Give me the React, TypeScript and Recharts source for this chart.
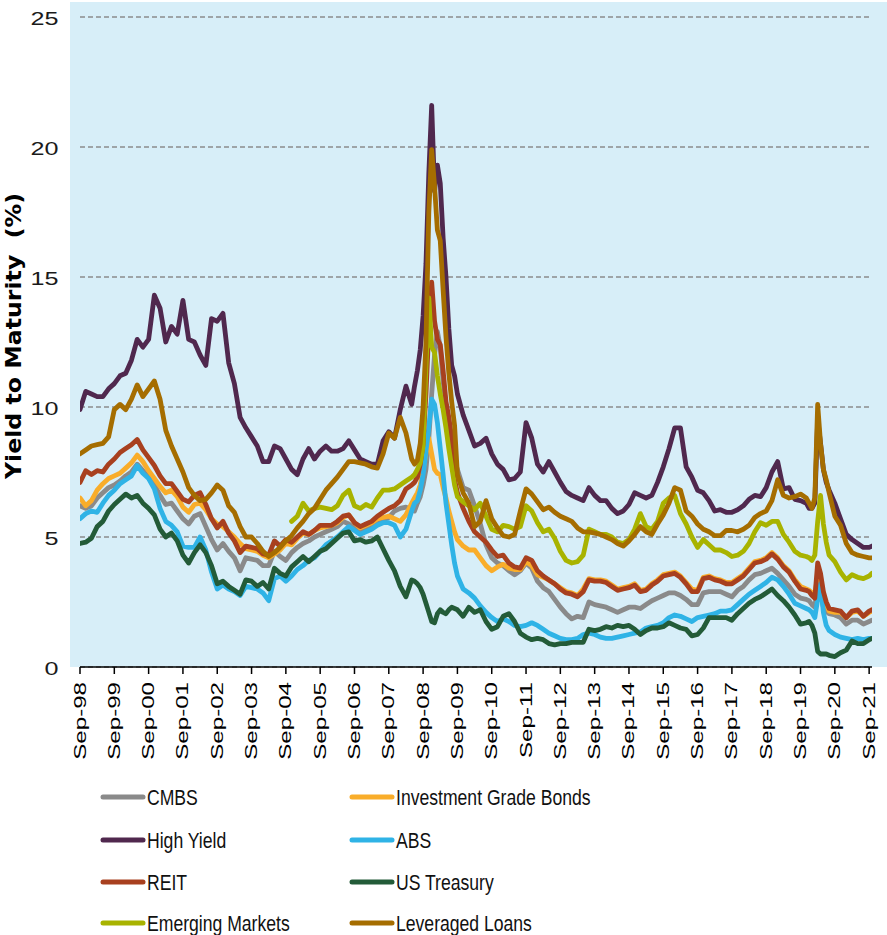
import { LineChart, Line, XAxis, YAxis, CartesianGrid } from 'recharts';

// month offsets from Sep-98 (every 2 months, monthly around the 2008 and 2020 spikes)
const MONTHS = [
  0, 2, 4, 6, 8, 10, 12, 14, 16, 18,
  20, 22, 24, 26, 28, 30, 32, 34, 36, 38,
  40, 42, 44, 46, 48, 50, 52, 54, 56, 58,
  60, 62, 64, 66, 68, 70, 72, 74, 76, 78,
  80, 82, 84, 86, 88, 90, 92, 94, 96, 98,
  100, 102, 104, 106, 108, 110, 112, 114, 116,
  117, 118, 119, 120, 121, 122, 123, 124, 125, 126, 127, 128, 129, 130, 131,
  132, 134, 136, 138, 140, 142, 144, 146, 148, 150,
  152, 154, 156, 158, 160, 162, 164, 166, 168, 170,
  172, 174, 176, 178, 180, 182, 184, 186, 188, 190,
  192, 194, 196, 198, 200, 202, 204, 206, 208, 210,
  212, 214, 216, 218, 220, 222, 224, 226, 228, 230,
  232, 234, 236, 238, 240, 242, 244, 246, 248, 250,
  252, 254,
  255, 256, 257, 258, 259, 260, 261, 262, 264, 266, 268, 270, 272, 274, 276, 277,
];

const YEAR_TICKS = [0, 12, 24, 36, 48, 60, 72, 84, 96, 108, 120, 132, 144, 156, 168, 180, 192, 204, 216, 228, 240, 252, 264, 276];
const YEAR_LABELS = [
  'Sep-98', 'Sep-99', 'Sep-00', 'Sep-01', 'Sep-02', 'Sep-03', 'Sep-04', 'Sep-05',
  'Sep-06', 'Sep-07', 'Sep-08', 'Sep-09', 'Sep-10', 'Sep-11', 'Sep-12', 'Sep-13',
  'Sep-14', 'Sep-15', 'Sep-16', 'Sep-17', 'Sep-18', 'Sep-19', 'Sep-20', 'Sep-21',
];
const Y_TICKS = [0, 5, 10, 15, 20, 25];

const CMBS = [
  6.2, 6.1, 6.2, 6.5, 6.7, 6.9, 7.0, 7.15, 7.35, 7.5,
  7.8, 7.55, 7.3, 7.0, 6.6, 6.25, 6.3, 6.0, 5.7, 5.5,
  5.8, 5.9, 5.4, 4.9, 4.5, 4.75, 4.45, 4.2, 3.7, 4.2,
  4.15, 4.1, 3.9, 3.9, 4.45, 4.25, 4.1, 4.4, 4.6, 4.75,
  4.85, 5.0, 5.1, 5.2, 5.3, 5.4, 5.6, 5.5, 5.35, 5.25,
  5.35, 5.45, 5.5, 5.65, 5.75, 6.0, 6.1, 6.15, 6.05,
  6.0, 6.3, 6.55, 7.0, 7.6, 8.8, 10.5, 12.0, 12.9, 12.3, 11.0, 10.0, 9.2, 8.4, 7.9,
  7.6, 6.9, 6.8, 6.2, 5.5, 4.7, 4.2, 4.0, 3.9, 3.7,
  3.55, 3.7, 4.0, 3.8, 3.3, 3.05, 2.9, 2.6, 2.3, 2.05,
  1.85, 1.95, 1.9, 2.5, 2.4, 2.35, 2.3, 2.2, 2.1, 2.2,
  2.3, 2.3, 2.25, 2.4, 2.55, 2.65, 2.75, 2.85, 2.85, 2.75,
  2.6, 2.4, 2.4, 2.85, 2.9, 2.9, 2.9, 2.8, 2.7, 2.95,
  3.1, 3.35, 3.55, 3.6, 3.7, 3.8, 3.6, 3.35, 3.1, 2.8,
  2.65, 2.6,
  2.55, 2.4, 2.3, 3.2, 2.8, 2.3, 2.15, 2.05, 2.0, 1.9, 1.65, 1.8, 1.8, 1.65, 1.75, 1.8,
];

const IG_BONDS = [
  6.5, 6.2, 6.4, 6.8, 7.05, 7.25, 7.35, 7.45, 7.65, 7.85,
  8.15, 7.9, 7.55, 7.25, 6.95, 6.7, 6.8, 6.55, 6.15, 5.95,
  6.25, 6.3, 6.05, 5.7, 5.5, 5.4, 5.2, 5.0, 4.75, 4.55,
  4.5, 4.45, 4.3, 4.2, 4.35, 4.5, 4.75, 4.7, 4.95, 5.15,
  5.1, 5.25, 5.35, 5.4, 5.45, 5.55, 5.75, 5.85, 5.55, 5.35,
  5.45, 5.55, 5.7, 5.75, 5.8, 5.7, 5.6, 5.85, 6.3,
  6.5, 6.7, 7.0, 7.6, 8.2, 8.8, 8.2, 7.6, 7.45, 7.4, 6.9, 6.5, 6.0, 5.6, 5.2,
  4.9, 4.65, 4.5, 4.5, 4.2, 3.9, 3.7, 3.85, 3.95, 3.8,
  3.75, 3.75, 4.05, 3.9, 3.55, 3.45, 3.35, 3.2, 3.05, 2.9,
  2.85, 2.75, 3.0, 3.4, 3.35, 3.35, 3.3, 3.15, 3.0, 3.05,
  3.1, 3.2, 2.95, 3.0, 3.2, 3.35, 3.55, 3.6, 3.65, 3.5,
  3.25, 3.0, 2.95, 3.45, 3.5, 3.4, 3.35, 3.25, 3.25, 3.4,
  3.55, 3.8, 4.05, 4.1, 4.2, 4.4, 4.2, 3.9, 3.7, 3.35,
  3.1, 3.0,
  2.95, 2.85, 2.8, 3.5, 3.3, 2.8, 2.4, 2.15, 2.1, 2.1, 1.9, 2.1, 2.15, 1.95, 2.1, 2.15,
];

const HIGH_YIELD = [
  9.9, 10.6, 10.5, 10.4, 10.4, 10.7, 10.9, 11.2, 11.3, 11.8,
  12.6, 12.3, 12.6, 14.3, 13.8, 12.5, 13.1, 12.8, 14.1, 12.6,
  12.5, 12.0, 11.6, 13.4, 13.3, 13.6, 11.7, 10.9, 9.6, 9.2,
  8.85, 8.5, 7.9, 7.9, 8.5, 8.4, 8.0, 7.6, 7.4, 8.0,
  8.4, 8.0, 8.3, 8.5, 8.3, 8.3, 8.4, 8.7, 8.35, 8.0,
  7.9, 7.8, 7.8, 8.7, 9.05, 8.8, 9.9, 10.8, 10.1,
  10.8, 11.4, 12.2, 13.5, 15.5, 19.0, 21.6, 18.3, 19.3, 18.6, 16.5, 15.0, 13.0, 11.6, 11.2,
  10.5, 9.7, 9.1, 8.5, 8.6, 8.8, 8.2, 7.8, 7.6, 7.2,
  7.25, 7.5, 9.4, 8.8, 7.8, 7.5, 7.9, 7.5, 7.1, 6.75,
  6.6, 6.5, 6.4, 6.9, 6.6, 6.4, 6.4, 6.1, 5.9, 6.0,
  6.25, 6.7, 6.6, 6.5, 6.6, 7.1, 7.7, 8.4, 9.2, 9.2,
  7.7, 7.3, 6.8, 6.7, 6.4, 6.0, 6.05, 5.95, 5.95, 6.05,
  6.2, 6.45, 6.6, 6.55, 6.9, 7.5, 7.9, 6.85, 6.9, 6.45,
  6.4, 6.3,
  6.1, 6.1, 6.3, 9.5, 8.6, 7.6, 7.1, 6.8, 6.3, 5.7, 5.1, 4.9, 4.75, 4.6, 4.6, 4.65,
];

const ABS = [
  5.7, 5.9, 6.0, 5.95, 6.3, 6.6, 6.8, 7.05, 7.2, 7.35,
  7.75, 7.45, 7.25, 6.85, 6.1, 5.6, 5.45, 5.2, 4.65, 4.6,
  4.6, 5.0, 4.5, 3.65, 3.0, 3.15, 3.0, 2.9, 2.75, 3.1,
  3.05, 3.0, 2.85, 2.55, 3.4, 3.5, 3.3, 3.5, 3.75, 3.9,
  4.1, 4.2, 4.45, 4.7, 4.85, 5.0, 5.2, 5.4, 5.25, 5.1,
  5.2, 5.3, 5.45, 5.55, 5.55, 5.45, 5.0, 5.3, 6.0,
  6.3, 6.4, 6.8, 7.4, 8.3, 9.2, 10.3, 10.1, 9.4, 8.4, 7.4, 6.3, 5.5, 4.7, 4.0,
  3.5, 3.0, 2.85, 2.65, 2.35, 2.1, 1.9, 1.75, 1.85, 1.75,
  1.6, 1.55, 1.6, 1.7, 1.6, 1.45, 1.3, 1.2, 1.1, 1.05,
  1.05, 1.1, 1.25, 1.3, 1.25, 1.15, 1.1, 1.1, 1.15, 1.2,
  1.25, 1.3, 1.35, 1.5, 1.55, 1.6, 1.7, 1.9, 2.0, 1.95,
  1.85, 1.75, 1.9, 1.95, 2.0, 2.05, 2.15, 2.15, 2.2, 2.4,
  2.6, 2.8, 2.95, 3.1, 3.25, 3.45, 3.35, 3.1, 2.8, 2.45,
  2.35, 2.25,
  2.2, 2.1, 1.9, 2.6, 3.2, 2.1, 1.6, 1.4, 1.25, 1.15, 1.1, 1.05, 1.1, 1.05, 1.1, 1.1,
];

const REIT = [
  7.1, 7.55, 7.4, 7.55, 7.5, 7.8, 8.0, 8.25, 8.4, 8.55,
  8.75, 8.35, 8.05, 7.75, 7.35, 7.05, 7.05, 6.75, 6.45, 6.35,
  6.6, 6.7, 6.25, 5.7, 5.35, 5.6, 5.15, 4.85, 4.4, 4.65,
  4.6, 4.55, 4.35, 4.3, 4.85, 4.65, 4.9, 4.8, 5.0, 5.2,
  5.1, 5.25, 5.45, 5.45, 5.45, 5.6, 5.8, 5.85, 5.55, 5.4,
  5.5, 5.6, 5.8, 5.95, 6.1, 6.2, 6.4, 6.85, 7.0,
  7.1, 7.3, 7.8, 8.6, 10.5, 13.0, 14.8, 13.3, 12.6, 12.4, 11.4, 10.2, 9.6, 8.8, 7.2,
  6.7, 6.1, 5.6, 5.2, 5.0, 4.8, 4.5, 4.25, 4.3, 4.0,
  3.85, 3.8, 4.2, 4.1, 3.7, 3.5, 3.35, 3.2, 3.0, 2.85,
  2.8, 2.7, 2.9, 3.35, 3.3, 3.3, 3.25, 3.1, 2.95, 3.0,
  3.05, 3.15, 2.9, 2.95, 3.15, 3.3, 3.5, 3.55, 3.6, 3.45,
  3.2, 2.9, 2.9, 3.4, 3.45, 3.35, 3.3, 3.2, 3.2, 3.35,
  3.5, 3.75, 4.0, 4.05, 4.15, 4.35, 4.15, 3.85, 3.65, 3.3,
  3.0, 2.95,
  2.9, 2.75, 2.65, 4.0, 3.6, 2.9, 2.5, 2.25, 2.2, 2.15, 1.9, 2.15, 2.2, 1.95, 2.15, 2.2,
];

const US_TREASURY = [
  4.75, 4.8, 4.95, 5.4, 5.6, 6.0, 6.25, 6.45, 6.65, 6.5,
  6.6, 6.3, 6.1, 5.85, 5.3, 5.0, 5.15, 4.85, 4.3, 4.0,
  4.4, 4.7, 4.4, 3.9, 3.2, 3.3, 3.1, 2.95, 2.8, 3.35,
  3.3, 3.1, 3.25, 3.0, 3.8, 3.6, 3.5, 3.85, 4.05, 4.25,
  4.05, 4.25, 4.45, 4.55, 4.75, 4.95, 5.15, 5.2, 4.85, 4.9,
  4.8, 4.85, 5.0, 4.55, 4.1, 3.7, 3.1, 2.7, 3.35,
  3.3, 3.2, 3.05, 2.8, 2.45, 2.1, 1.75, 1.7, 2.05, 2.2, 2.1, 2.05, 2.2, 2.3, 2.25,
  2.2, 1.95, 2.3, 2.1, 2.2, 1.75, 1.45, 1.55, 1.95, 2.05,
  1.75, 1.3, 1.15, 1.05, 1.1, 1.05, 0.9, 0.85, 0.9, 0.9,
  0.95, 0.95, 0.95, 1.45, 1.4, 1.45, 1.55, 1.5, 1.6, 1.55,
  1.6, 1.45, 1.25, 1.4, 1.5, 1.5, 1.55, 1.7, 1.6, 1.5,
  1.45, 1.2, 1.25, 1.5, 1.9, 1.9, 1.9, 1.9, 1.8, 2.05,
  2.25, 2.45, 2.6, 2.7, 2.85, 3.0, 2.75, 2.55, 2.3, 2.0,
  1.65, 1.7,
  1.75, 1.6, 1.3, 0.6, 0.5, 0.5, 0.5, 0.45, 0.4, 0.55, 0.65, 1.0, 0.9, 0.9, 1.05, 1.1,
];

// index starts Sep-04, earlier months have no data
const EMERGING = [
  null, null, null, null, null, null, null, null, null, null,
  null, null, null, null, null, null, null, null, null, null,
  null, null, null, null, null, null, null, null, null, null,
  null, null, null, null, null, null, null, 5.6, 5.8, 6.3,
  6.0, 6.1, 6.15, 6.1, 6.05, 6.2, 6.6, 6.8, 6.2, 6.1,
  6.25, 6.15, 6.5, 6.8, 6.8, 6.85, 7.0, 7.15, 7.3,
  7.4, 7.6, 7.85, 8.5, 11.5, 14.2, 12.3, 12.1, 11.2, 10.5, 9.9, 9.2, 8.4, 7.7, 7.0,
  6.55, 6.35, 6.2, 6.05, 6.3, 5.8, 5.3, 5.2, 5.45, 5.4,
  5.3, 5.4, 6.2, 6.0, 5.55, 5.2, 5.3, 4.95, 4.45, 4.1,
  4.0, 4.05, 4.3, 5.3, 5.2, 5.1, 5.1, 5.0, 4.8, 4.75,
  4.9, 5.3, 5.9, 5.4, 5.3, 5.6, 6.3, 6.5, 6.6, 5.9,
  5.5, 5.0, 4.6, 4.9, 4.7, 4.5, 4.5, 4.4, 4.25, 4.3,
  4.45, 4.75, 5.2, 5.55, 5.45, 5.6, 5.6, 5.1, 4.8, 4.45,
  4.3, 4.25,
  4.2, 4.1, 4.3, 5.6, 6.6, 5.5, 4.8, 4.3, 4.05, 3.65, 3.35, 3.55, 3.45, 3.4, 3.5, 3.6,
];

const LEV_LOANS = [
  8.2, 8.35, 8.5, 8.55, 8.6, 8.85, 9.9, 10.1, 9.9, 10.3,
  10.85, 10.4, 10.7, 11.0, 10.3, 9.1, 8.5, 8.0, 7.5, 6.9,
  6.6, 6.4, 6.45, 6.7, 7.0, 6.8, 6.2, 5.95, 5.4, 5.0,
  5.0, 4.75, 4.45, 4.25, 4.4, 4.6, 4.85, 5.05, 5.35, 5.6,
  5.9, 6.1, 6.45, 6.8, 7.05, 7.3, 7.6, 7.9, 7.9, 7.85,
  7.8, 7.7, 7.65, 8.2, 9.0, 8.8, 9.6, 9.0, 8.0,
  7.8, 7.95, 8.6, 10.0, 12.5, 17.5, 19.9, 18.5, 16.8, 16.4, 14.5, 12.7, 11.3, 10.2, 9.3,
  7.4, 6.7, 6.3, 5.4, 5.6, 6.4, 5.7, 5.35, 5.05, 5.0,
  5.1, 6.0, 6.85, 6.65, 6.35, 6.05, 6.15, 5.95, 5.8, 5.7,
  5.6, 5.35, 5.2, 5.2, 5.15, 5.1, 5.0, 4.9, 4.75, 4.65,
  4.85, 5.1, 5.4, 5.2, 5.1, 5.5, 5.85, 6.3, 6.9, 6.8,
  6.0, 5.8, 5.5, 5.3, 5.2, 5.05, 5.05, 5.25, 5.25, 5.2,
  5.3, 5.45, 5.75, 5.9, 6.0, 6.4, 7.2, 6.6, 6.5, 6.55,
  6.65, 6.5,
  6.3, 6.1, 6.5, 10.1, 8.6, 7.6, 7.2, 6.7, 5.8, 5.45, 4.75, 4.4, 4.3, 4.25, 4.2, 4.2,
];

const SERIES = [
  { key: 'cmbs', name: 'CMBS', color: '#8a8a8a', values: CMBS },
  { key: 'ig', name: 'Investment Grade Bonds', color: '#f9ad2a', values: IG_BONDS },
  { key: 'hy', name: 'High Yield', color: '#50284e', values: HIGH_YIELD },
  { key: 'abs', name: 'ABS', color: '#2fb3e6', values: ABS },
  { key: 'reit', name: 'REIT', color: '#a8401f', values: REIT },
  { key: 'ust', name: 'US Treasury', color: '#235b38', values: US_TREASURY },
  { key: 'em', name: 'Emerging Markets', color: '#a8b300', values: EMERGING },
  { key: 'll', name: 'Leveraged Loans', color: '#a56d00', values: LEV_LOANS },
];

const data = MONTHS.map((t, i) => {
  const row: Record<string, number | null> = { t };
  SERIES.forEach((s) => {
    row[s.key] = s.values[i] ?? null;
  });
  return row;
});

function XTick({ x, y, payload }: any) {
  const label = YEAR_LABELS[Math.round(payload.value / 12)];
  return (
    <text
      transform={`translate(${x + 5.5},${y + 8}) rotate(-90) scale(1.42,1)`}
      textAnchor="end"
      fontFamily="'Liberation Sans', Arial, sans-serif"
      fontSize={17}
      fill="#000"
    >
      {label}
    </text>
  );
}

function YTick({ x, y, payload }: any) {
  return (
    <text
      transform={`translate(${x - 21.5},${y + 2}) scale(1.4,1)`}
      textAnchor="end"
      dominantBaseline="central"
      fontFamily="'Liberation Sans', Arial, sans-serif"
      fontSize={18}
      fill="#1a1a1a"
    >
      {payload.value}
    </text>
  );
}

function YTitle({ viewBox }: any) {
  const cx = viewBox.x - 7;
  const cy = viewBox.y + viewBox.height / 2 - 6;
  return (
    <text
      transform={`translate(${cx},${cy}) rotate(-90) scale(1.1,1)`}
      textAnchor="middle"
      dominantBaseline="central"
      fontFamily="'DejaVu Sans', Verdana, sans-serif"
      fontWeight="bold"
      fontSize={21.5}
      fill="#000"
      style={{ whiteSpace: 'pre' }}
    >
      {'Yield to Maturity  (%)'}
    </text>
  );
}

const LEGEND_COL_X = [103, 352];
const LEGEND_ROW_Y = [22, 65, 107, 148];

function SeriesLegend() {
  return (
    <svg width={887} height={160} style={{ position: 'absolute', left: 0, top: 775 }}>
      {SERIES.map((s, i) => {
        const x = LEGEND_COL_X[i % 2];
        const y = LEGEND_ROW_Y[Math.floor(i / 2)];
        return (
          <g key={s.key}>
            <line x1={x} y1={y} x2={x + 40} y2={y} stroke={s.color} strokeWidth={5} strokeLinecap="round" />
            <text
              transform={`translate(${x + 44},${y + 8}) scale(0.8,1)`}
              fontFamily="'Liberation Sans', Arial, sans-serif"
              fontSize={22}
              fill="#111"
            >
              {s.name}
            </text>
          </g>
        );
      })}
    </svg>
  );
}

export default function App() {
  return (
    <div style={{ position: 'absolute', left: 0, top: 0, width: 887, height: 935, background: '#fff' }}>
      <div style={{ position: 'absolute', left: 70, top: 2, width: 817, height: 665, background: '#d7eef8' }} />
      <LineChart width={887} height={935} data={data} margin={{ top: 17, right: 15, bottom: 0, left: 20 }}>
        <CartesianGrid horizontal vertical={false} stroke="#8c8c8c" strokeWidth={1.6} strokeDasharray="5 3" />
        <XAxis
          type="number"
          dataKey="t"
          domain={[0, 277]}
          ticks={YEAR_TICKS}
          interval={0}
          height={268}
          tickSize={7}
          tickMargin={0}
          tick={<XTick />}
          axisLine={{ stroke: '#000', strokeWidth: 1.5 }}
          tickLine={{ stroke: '#000', strokeWidth: 1.5 }}
          allowDataOverflow
        />
        <YAxis
          type="number"
          domain={[0, 25]}
          ticks={Y_TICKS}
          interval={0}
          width={60}
          tickSize={0}
          tickMargin={0}
          axisLine={false}
          tickLine={false}
          tick={<YTick />}
          label={{ value: 'Yield to Maturity  (%)', content: <YTitle /> }}
        />
        {SERIES.map((s) => (
          <Line
            key={s.key}
            type="linear"
            dataKey={s.key}
            name={s.name}
            stroke={s.color}
            strokeWidth={4.8}
            strokeLinejoin="round"
            strokeLinecap="round"
            dot={false}
            activeDot={false}
            connectNulls={false}
            isAnimationActive={false}
          />
        ))}
      </LineChart>
      <SeriesLegend />
    </div>
  );
}
